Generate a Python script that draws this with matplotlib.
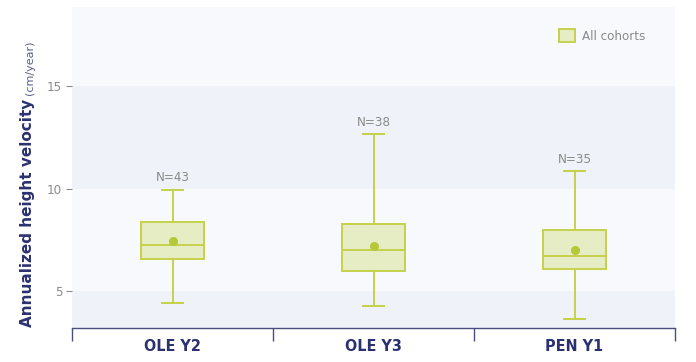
import matplotlib.pyplot as plt
from matplotlib.patches import Patch

########

groups = ["OLE Y2", "OLE Y3", "PEN Y1"]
n_labels = ["N=43", "N=38", "N=35"]

whis_lo = [4.40, 4.26, 3.62]
q1 = [6.55, 5.99, 6.10]
median = [7.25, 6.98, 6.73]
mean = [7.46, 7.19, 6.98]
q3 = [8.39, 8.28, 7.97]
whis_hi = [9.94, 12.65, 10.84]

yticks = [5, 10, 15]

########

navy = "#2b3170"
gray = "#8a8a8a"
edge = "#c4d24a"
fill = "#e6ecc4"
dot = "#b4c83a"
band_light = "#f8f9fc"
band_dark = "#eff2f8"

plt.rcParams['font.family'] = ['DejaVu Sans']
plt.rcParams['font.stretch'] = 'condensed'

fig = plt.figure(figsize = (6.96, 3.62), dpi = 100)
ax = fig.add_axes([72 / 696, 34 / 362, 603 / 696, 321 / 362])

ax.set_facecolor(band_light)
ax.set_ylim(3.2, 18.85)
ax.set_xlim(-0.5, 2.5)

ax.axhspan(3.2, 5, color = band_dark, lw = 0, zorder = 0)
ax.axhspan(10, 15, color = band_dark, lw = 0, zorder = 0)

stats = []
for i in range(len(groups)):
        stats.append(dict(label = groups[i], whislo = whis_lo[i], q1 = q1[i],
                          med = median[i], mean = mean[i], q3 = q3[i],
                          whishi = whis_hi[i], fliers = []))

ax.bxp(stats, positions = range(len(groups)), widths = 0.317,
       showmeans = True, patch_artist = True, showfliers = False,
       boxprops = dict(facecolor = fill, edgecolor = edge, lw = 1.4),
       medianprops = dict(color = edge, lw = 1.4),
       whiskerprops = dict(color = edge, lw = 1.4),
       capprops = dict(color = edge, lw = 1.4),
       capwidths = 0.106,
       meanprops = dict(marker = "o", markerfacecolor = dot,
                        markeredgecolor = dot, markersize = 5.5))

for i in range(len(groups)):
        ax.annotate(n_labels[i], (i, whis_hi[i]), xytext = (0, 4),
                    textcoords = "offset points", ha = "center", va = "bottom",
                    color = gray, fontsize = 9.5, fontstretch = "condensed")

# spines and ticks
for s in ["top", "right", "left"]:
        ax.spines[s].set_visible(False)
ax.spines["bottom"].set_color("#4a4e7c")
ax.spines["bottom"].set_linewidth(1.0)

ax.set_xticks([-0.5, 0.5, 1.5, 2.5])
ax.set_xticklabels([])
ax.tick_params(axis = "x", which = "major", length = 9, color = "#4a4e7c", width = 1)
ax.set_xticks(range(len(groups)), minor = True)
ax.set_xticklabels(groups, minor = True, fontsize = 11.5, fontweight = "bold",
                   color = navy, fontstretch = "condensed")
ax.tick_params(axis = "x", which = "minor", length = 0, pad = 8)

ax.set_yticks(yticks)
ax.set_yticklabels([str(v) for v in yticks], color = gray, fontsize = 9.5,
                   fontstretch = "condensed")
ax.tick_params(axis = "y", length = 4, color = gray, width = 0.8, pad = 3)

ax.legend(handles = [Patch(facecolor = fill, edgecolor = edge, lw = 1.4, label = "All cohorts")],
          loc = "upper right", frameon = False, labelcolor = gray,
          prop = dict(size = 9.5, stretch = "condensed"),
          handlelength = 1.2, handleheight = 1.2, handletextpad = 0.5,
          bbox_to_anchor = (0.97, 0.97))

# y label: bold part plus small unit
t1 = fig.text(28 / 696, 35 / 362, "Annualized height velocity", rotation = 90,
              ha = "center", va = "bottom", fontsize = 11, fontweight = "bold",
              color = navy, fontstretch = "normal")
fig.canvas.draw()
bb = t1.get_window_extent()
fig.text(30 / 696, (bb.y1 + 4) / 362, "(cm/year)", rotation = 90,
         ha = "center", va = "bottom", fontsize = 8, color = "#5a5e88",
         fontstretch = "normal")

plt.savefig("out.png", dpi = 100)
